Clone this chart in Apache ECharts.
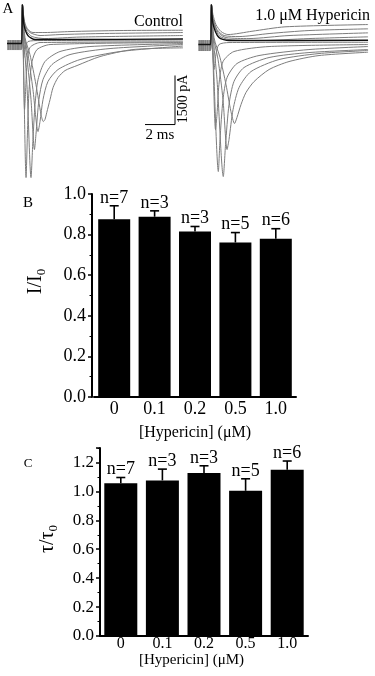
<!DOCTYPE html>
<html>
<head>
<meta charset="utf-8">
<script src="https://cdn.jsdelivr.net/npm/echarts@6/dist/echarts.min.js"></script>
<style>
  html, body { margin: 0; padding: 0; background: #fff; }
  #main { width: 375px; height: 676px; }
</style>
</head>
<body>
<div id="main"></div>
<script>
// bar panels
const concentrations = ['0', '0.1', '0.2', '0.5', '1.0'];
const nLabels = ['n=7', 'n=3', 'n=3', 'n=5', 'n=6'];
const peakRatio = [0.876, 0.888, 0.815, 0.761, 0.779];
const peakRatioErr = [0.066, 0.029, 0.025, 0.049, 0.050];
const tauRatio = [1.057, 1.076, 1.127, 1.004, 1.150];
const tauRatioErr = [0.039, 0.078, 0.050, 0.083, 0.060];

// current traces, [time ms, current pA]
const controlTraces = [
  [[-1, 61], [-0.03, 61], [0.03, 1160], [0.1, 856], [0.2, 581], [0.4, 397], [0.73, 306], [1.53, 306], [3.2, 336], [6.53, 367], [10.73, 376]],
  [[-1, 31], [-0.03, 31], [0.03, 1160], [0.13, 703], [0.27, 458], [0.53, 306], [1.2, 214], [2.53, 244], [5.2, 275], [10.73, 306]],
  [[-1, 0], [-0.03, 0], [0.03, 1160], [0.13, 642], [0.33, 336], [0.67, 183], [1.53, 122], [3.87, 168], [10.73, 214]],
  [[-1, -31], [-0.03, -31], [0.03, 1160], [0.13, 550], [0.4, 214], [0.87, 92], [2.53, 92], [10.73, 107]],
  [[-1, -31], [-0.03, -31], [0.03, 1160], [0.07, 397], [0.12, -458], [0.2, -214], [0.4, 31], [1.2, 61], [10.73, 46]],
  [[-1, -61], [-0.03, -61], [0.03, 1160], [0.08, -214], [0.17, -2048], [0.23, -1589], [0.33, -672], [0.53, -153], [1.2, 0], [10.73, 15]],
  [[-1, -92], [-0.03, -92], [0.03, 1160], [0.1, -520], [0.27, -4126], [0.37, -2659], [0.47, -1436], [0.67, -581], [1.0, -214], [1.87, -61], [10.73, 0]],
  [[-1, -122], [-0.03, -122], [0.03, 1160], [0.13, 92], [0.33, -1283], [0.6, -4126], [0.73, -2964], [0.87, -1895], [1.07, -1131], [1.53, -581], [2.53, -275], [4.53, -122], [10.73, -31]],
  [[-1, -153], [-0.03, -153], [0.03, 1160], [0.13, 244], [0.33, -458], [0.6, -1742], [0.83, -3270], [0.93, -2812], [1.13, -1742], [1.4, -1131], [2.0, -672], [3.2, -367], [5.87, -183], [10.73, -61]],
  [[-1, -183], [-0.03, -183], [0.03, 1160], [0.13, 244], [0.4, -367], [0.73, -1436], [1.07, -2720], [1.2, -2414], [1.4, -1742], [1.73, -1192], [2.4, -825], [3.87, -520], [6.53, -275], [10.73, -107]],
  [[-1, -214], [-0.03, -214], [0.03, 1160], [0.2, 153], [0.53, -367], [0.93, -1283], [1.27, -2200], [1.42, -2414], [1.53, -2353], [1.65, -2139], [1.87, -1742], [2.07, -1375], [2.4, -1070], [2.87, -856], [3.67, -703], [5.2, -428], [7.4, -214], [10.73, -162]]
];
const hypericinTraces = [
  [[-0.85, 61], [-0.03, 61], [0.03, 1160], [0.13, 856], [0.33, 550], [0.67, 336], [1.13, 244], [2.73, 345], [4.93, 480], [10.47, 550]],
  [[-0.85, 31], [-0.03, 31], [0.03, 1160], [0.13, 764], [0.4, 397], [0.87, 214], [1.87, 183], [3.87, 275], [6.53, 367], [10.47, 419]],
  [[-0.85, 0], [-0.03, 0], [0.03, 1160], [0.13, 703], [0.47, 306], [1.0, 153], [2.53, 122], [5.2, 214], [10.47, 296]],
  [[-0.85, -31], [-0.03, -31], [0.03, 1160], [0.13, 642], [0.53, 214], [1.2, 92], [3.2, 61], [6.53, 122], [10.47, 174]],
  [[-0.85, -61], [-0.03, -61], [0.03, 1160], [0.13, 581], [0.53, 153], [1.2, 61], [10.47, 70]],
  [[-0.85, -92], [-0.03, -92], [0.03, 1160], [0.07, 244], [0.2, -825], [0.33, -367], [0.53, -61], [1.2, 0], [10.47, 9]],
  [[-0.85, -122], [-0.03, -122], [0.03, 1160], [0.1, 92], [0.3, -2659], [0.4, -2200], [0.53, -1283], [0.8, -581], [1.53, -275], [3.87, -122], [10.47, -61]],
  [[-0.85, -153], [-0.03, -153], [0.03, 1160], [0.13, -214], [0.49, -3942], [0.6, -2964], [0.8, -1742], [1.07, -1070], [1.73, -642], [3.2, -397], [6.53, -214], [10.47, -122]],
  [[-0.85, -183], [-0.03, -183], [0.03, 1160], [0.13, 244], [0.4, -1131], [0.82, -4095], [0.97, -3117], [1.2, -1895], [1.53, -1192], [2.2, -764], [3.87, -458], [6.53, -306], [10.47, -214]],
  [[-0.85, -214], [-0.03, -214], [0.03, 1160], [0.13, 244], [0.47, -520], [0.8, -1742], [1.07, -3270], [1.2, -2964], [1.47, -2048], [1.87, -1375], [2.67, -886], [4.53, -520], [7.2, -336], [10.47, -244]],
  [[-0.85, -244], [-0.03, -244], [0.03, 1160], [0.2, 153], [0.6, -458], [1.0, -1283], [1.33, -2108], [1.57, -2475], [1.73, -2292], [2.0, -1895], [2.33, -1528], [2.87, -1192], [3.87, -825], [5.2, -581], [7.2, -397], [10.47, -296]]
];
const controlDark = 3;
const hypericinDark = 4;

// scale bar: 2 ms by 1500 pA
const scaleBar = [[8.2, -2506], [10.2, -2506], [10.2, -1006]];

const serif = '"Liberation Serif", "DejaVu Serif", serif';

const myChart = echarts.init(document.getElementById('main'));

function traceSeries(traces, idx, dark) {
  return traces.map(function (pts, k) {
    return {
      type: 'line',
      xAxisIndex: idx,
      yAxisIndex: idx,
      data: pts,
      showSymbol: false,
      smooth: 0.25,
      silent: true,
      z: k === dark ? 4 : 2,
      lineStyle: { color: k === dark ? '#111' : '#7d7d7d', width: k === dark ? 1.4 : 1 }
    };
  });
}

function errorBars(values, errs, fontSize) {
  return function (params, api) {
    const i = params.dataIndex;
    const base = api.coord([i, values[i]]);
    const top = api.coord([i, values[i] + errs[i]]);
    return {
      type: 'group',
      children: [
        { type: 'line', shape: { x1: top[0], y1: base[1], x2: top[0], y2: top[1] }, style: { stroke: '#000', lineWidth: 1.6 } },
        { type: 'line', shape: { x1: top[0] - 4.5, y1: top[1], x2: top[0] + 4.5, y2: top[1] }, style: { stroke: '#000', lineWidth: 1.6 } },
        { type: 'text', x: top[0], y: top[1] + 1, style: { text: nLabels[i], font: fontSize + 'px ' + serif, fill: '#000', align: 'center', verticalAlign: 'bottom' } }
      ]
    };
  };
}

const traceX = { type: 'value', min: -1, max: 10.8, show: false };
const traceY = { type: 'value', min: -4200, max: 1300, show: false };

function barYAxis(idx, max, fontSize, nameText, gap, offset, shift) {
  return {
    gridIndex: idx,
    type: 'value',
    min: 0,
    max: max,
    interval: 0.2,
    offset: offset,
    name: nameText,
    nameLocation: 'middle',
    nameRotate: 90,
    nameGap: gap,
    nameTextStyle: {
      fontFamily: serif, fontSize: 20, color: '#000', padding: [0, 0, 0, shift],
      rich: { s: { fontFamily: serif, fontSize: 13, color: '#000', padding: [11, 0, 0, 0] } }
    },
    axisLine: { show: true, lineStyle: { color: '#000', width: 2 } },
    axisTick: { show: true, length: 4, lineStyle: { color: '#000', width: 1.5 } },
    minorTick: { show: true, splitNumber: 2, length: 2.5, lineStyle: { color: '#000', width: 1 } },
    splitLine: { show: false },
    axisLabel: {
      margin: 6, fontFamily: serif, fontSize: fontSize, color: '#000',
      formatter: function (v) { return Math.abs(v - max) < 1e-6 && max !== 1 ? '' : v.toFixed(1); }
    }
  };
}

function barXAxis(idx, fontSize, margin, nameSize, gap, nameShift) {
  return {
    gridIndex: idx,
    type: 'category',
    data: concentrations,
    name: '[Hypericin] (μM)',
    nameLocation: 'middle',
    nameGap: gap,
    nameTextStyle: { fontFamily: serif, fontSize: nameSize, color: '#000', padding: [0, nameShift, 0, 0] },
    axisLine: { show: true, lineStyle: { color: '#000', width: 2 } },
    axisTick: { show: false },
    axisLabel: { margin: margin, fontFamily: serif, fontSize: fontSize, color: '#000' }
  };
}

const option = {
  animation: false,
  backgroundColor: '#fff',
  grid: [
    { left: 7, top: 0, width: 177, height: 180 },
    { left: 196, top: 0, width: 177, height: 180 },
    { left: 94, top: 194, width: 202, height: 203 },
    { left: 100, top: 448, width: 208, height: 188 }
  ],
  xAxis: [
    Object.assign({ gridIndex: 0 }, traceX),
    Object.assign({ gridIndex: 1 }, traceX),
    barXAxis(2, 18, 3, 16, 28, 0),
    barXAxis(3, 16, 0, 15, 13, 25)
  ],
  yAxis: [
    Object.assign({ gridIndex: 0 }, traceY),
    Object.assign({ gridIndex: 1 }, traceY),
    barYAxis(2, 1.0, 18, 'I/I{s|0}', 44, 2, 28),
    barYAxis(3, 1.3, 17, 'τ/τ{s|0}', 40, 0, 6)
  ],
  graphic: [
    { type: 'text', x: 8, y: 9, style: { text: 'A', font: '15px ' + serif, fill: '#000', align: 'center', verticalAlign: 'middle' } },
    { type: 'text', x: 183, y: 22, style: { text: 'Control', font: '16px ' + serif, fill: '#000', align: 'right', verticalAlign: 'middle' } },
    { type: 'text', x: 370, y: 16, style: { text: '1.0 μM Hypericin', font: '16px ' + serif, fill: '#000', align: 'right', verticalAlign: 'middle' } },
    { type: 'text', x: 183, y: 99, rotation: Math.PI / 2, style: { text: '1500 pA', font: '14px ' + serif, fill: '#000', align: 'center', verticalAlign: 'middle' } },
    { type: 'text', x: 160, y: 135, style: { text: '2 ms', font: '15px ' + serif, fill: '#000', align: 'center', verticalAlign: 'middle' } },
    { type: 'text', x: 28, y: 203, style: { text: 'B', font: '15px ' + serif, fill: '#000', align: 'center', verticalAlign: 'middle' } },
    { type: 'text', x: 28, y: 464, style: { text: 'C', font: '13px ' + serif, fill: '#000', align: 'center', verticalAlign: 'middle' } }
  ],
  series: [].concat(
    traceSeries(controlTraces, 0, controlDark),
    traceSeries(hypericinTraces, 1, hypericinDark),
    [
      {
        type: 'line', xAxisIndex: 0, yAxisIndex: 0, data: scaleBar, showSymbol: false, silent: true,
        lineStyle: { color: '#000', width: 1 }
      },
      {
        type: 'bar', xAxisIndex: 2, yAxisIndex: 2, data: peakRatio, barWidth: 32,
        itemStyle: { color: '#000' }, silent: true
      },
      {
        type: 'custom', xAxisIndex: 2, yAxisIndex: 2, silent: true, z: 3,
        data: peakRatio.map(function (v, i) { return [i, v + peakRatioErr[i]]; }),
        renderItem: errorBars(peakRatio, peakRatioErr, 18)
      },
      {
        type: 'bar', xAxisIndex: 3, yAxisIndex: 3, data: tauRatio, barWidth: 33,
        itemStyle: { color: '#000' }, silent: true
      },
      {
        type: 'custom', xAxisIndex: 3, yAxisIndex: 3, silent: true, z: 3,
        data: tauRatio.map(function (v, i) { return [i, v + tauRatioErr[i]]; }),
        renderItem: errorBars(tauRatio, tauRatioErr, 18)
      }
    ]
  )
};

myChart.setOption(option);
</script>
</body>
</html>
